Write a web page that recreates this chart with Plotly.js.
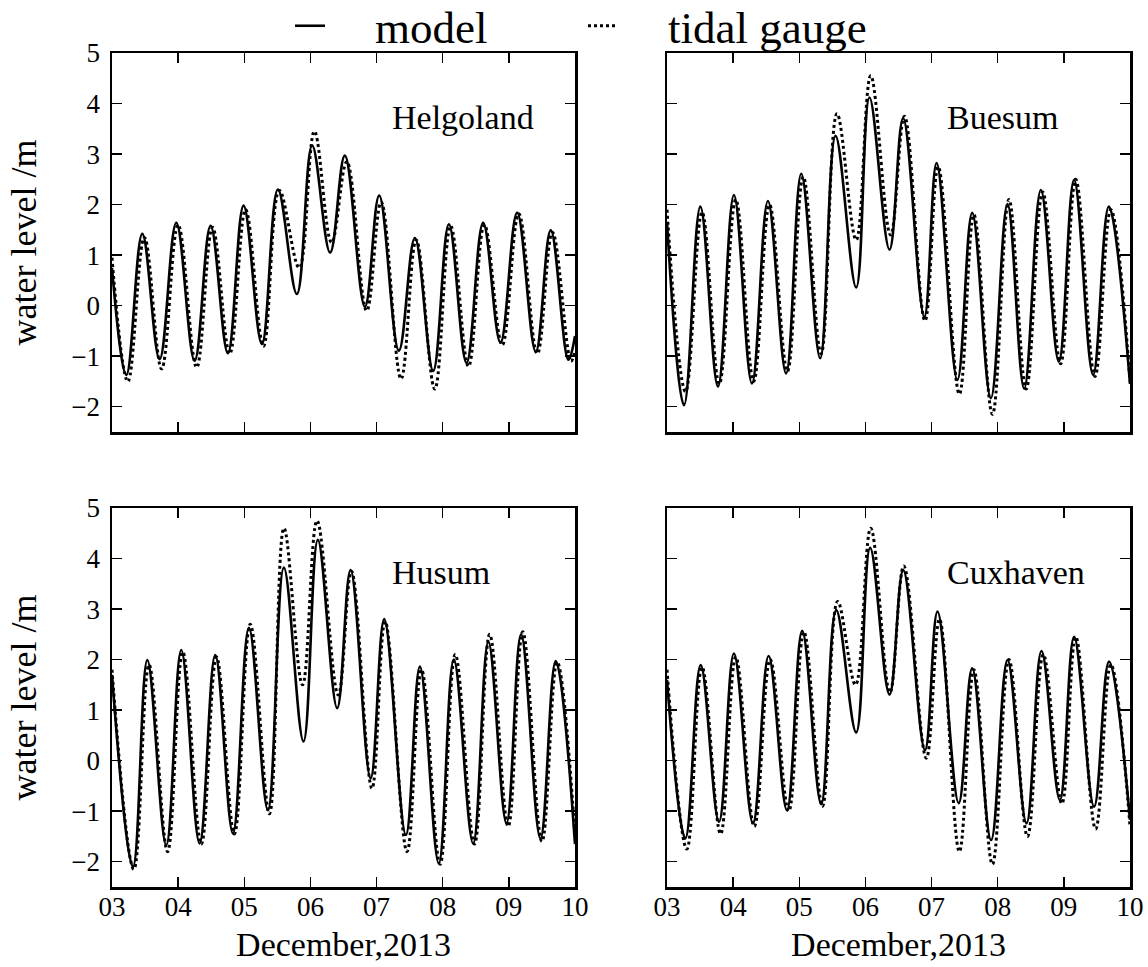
<!DOCTYPE html>
<html>
<head>
<meta charset="utf-8">
<script src="https://cdn.plot.ly/plotly-3.0.1.min.js"></script>
<style>html,body{margin:0;padding:0;background:#fff;}#chart{width:1148px;height:967px;}</style>
</head>
<body>
<div id="chart"></div>
<script>
// Time in December 2013 (day of month, fractional) at each turning point
const helgolandModelT = [3.0, 3.217, 3.458, 3.72, 3.972, 4.249, 4.49, 4.752, 4.989, 5.266, 5.508, 5.795, 6.026, 6.298, 6.52, 6.824, 7.04, 7.337, 7.579, 7.856, 8.093, 8.36, 8.611, 8.873, 9.125, 9.407, 9.633, 9.9, 10.0];
const helgolandModelV = [0.75, -1.37, 1.42, -1.06, 1.64, -1.09, 1.58, -0.94, 1.98, -0.76, 2.3, 0.23, 3.17, 1.05, 2.97, -0.02, 2.18, -0.89, 1.34, -1.29, 1.61, -1.13, 1.64, -0.73, 1.84, -0.91, 1.49, -1.07, -0.6];
const helgolandGaugeT = [3.0, 3.24, 3.49, 3.75, 4.0, 4.28, 4.52, 4.78, 5.02, 5.29, 5.53, 5.83, 6.06, 6.32, 6.55, 6.85, 7.07, 7.37, 7.6, 7.88, 8.12, 8.39, 8.63, 8.9, 9.15, 9.43, 9.66, 9.94, 10.0];
const helgolandGaugeV = [0.95, -1.5, 1.35, -1.25, 1.6, -1.22, 1.55, -0.95, 1.9, -0.8, 2.28, 0.75, 3.45, 1.25, 2.85, -0.1, 2.05, -1.45, 1.3, -1.65, 1.58, -1.2, 1.6, -0.78, 1.82, -0.95, 1.45, -1.1, -0.9];

const buesumModelT = [3.0, 3.257, 3.504, 3.77, 4.012, 4.284, 4.526, 4.8, 5.03, 5.316, 5.548, 5.86, 6.061, 6.364, 6.57, 6.89, 7.076, 7.39, 7.614, 7.896, 8.148, 8.4, 8.652, 8.924, 9.155, 9.442, 9.68, 10.0];
const buesumModelV = [1.65, -1.97, 1.96, -1.6, 2.19, -1.54, 2.07, -1.34, 2.61, -1.04, 3.36, 0.36, 4.12, 1.11, 3.71, -0.22, 2.82, -1.47, 1.84, -1.83, 2.01, -1.64, 2.29, -1.11, 2.49, -1.37, 1.96, -1.55];
const buesumGaugeT = [3.0, 3.28, 3.53, 3.79, 4.04, 4.31, 4.55, 4.82, 5.06, 5.33, 5.57, 5.86, 6.08, 6.38, 6.59, 6.9, 7.1, 7.42, 7.64, 7.92, 8.17, 8.43, 8.68, 8.95, 9.18, 9.47, 9.71, 10.0];
const buesumGaugeV = [1.9, -1.7, 1.85, -1.55, 2.1, -1.5, 2.0, -1.3, 2.55, -0.95, 3.8, 1.3, 4.55, 1.4, 3.75, -0.3, 2.75, -1.75, 1.8, -2.15, 2.1, -1.65, 2.25, -1.15, 2.5, -1.4, 1.9, -1.5];

const husumModelT = [3.0, 3.317, 3.534, 3.82, 4.047, 4.324, 4.561, 4.828, 5.07, 5.357, 5.598, 5.895, 6.112, 6.404, 6.607, 6.91, 7.116, 7.443, 7.655, 7.94, 8.168, 8.46, 8.69, 8.964, 9.185, 9.477, 9.709, 10.0];
const husumModelV = [1.7, -2.1, 1.99, -1.67, 2.19, -1.64, 2.09, -1.44, 2.63, -0.98, 3.82, 0.38, 4.37, 1.04, 3.77, -0.35, 2.8, -1.47, 1.86, -2.03, 2.0, -1.64, 2.35, -1.24, 2.5, -1.54, 1.97, -1.65];
const husumGaugeT = [3.0, 3.33, 3.56, 3.84, 4.07, 4.35, 4.58, 4.85, 5.09, 5.38, 5.6, 5.88, 6.1, 6.42, 6.62, 6.93, 7.13, 7.46, 7.68, 7.96, 8.19, 8.48, 8.71, 8.99, 9.21, 9.5, 9.73, 10.0];
const husumGaugeV = [1.8, -2.15, 1.9, -1.8, 2.15, -1.65, 2.05, -1.45, 2.7, -1.05, 4.6, 1.5, 4.75, 1.3, 3.75, -0.55, 2.75, -1.8, 1.8, -2.05, 2.1, -1.65, 2.5, -1.3, 2.55, -1.6, 1.95, -1.5];

const cuxhavenModelT = [3.0, 3.277, 3.509, 3.786, 4.012, 4.3, 4.536, 4.813, 5.044, 5.331, 5.558, 5.86, 6.071, 6.364, 6.572, 6.9, 7.09, 7.41, 7.614, 7.9, 8.148, 8.435, 8.662, 8.94, 9.155, 9.457, 9.683, 10.0];
const cuxhavenModelV = [1.6, -1.54, 1.89, -1.21, 2.12, -1.24, 2.07, -0.98, 2.57, -0.86, 2.98, 0.56, 4.21, 1.31, 3.77, 0.21, 2.95, -0.84, 1.83, -1.57, 1.99, -1.24, 2.17, -0.78, 2.45, -0.91, 1.96, -1.17];
const cuxhavenGaugeT = [3.0, 3.3, 3.53, 3.81, 4.04, 4.32, 4.56, 4.84, 5.07, 5.35, 5.58, 5.85, 6.08, 6.37, 6.58, 6.92, 7.12, 7.42, 7.64, 7.92, 8.17, 8.45, 8.69, 8.97, 9.18, 9.48, 9.71, 10.0];
const cuxhavenGaugeV = [1.8, -1.75, 1.85, -1.45, 2.05, -1.3, 2.0, -1.0, 2.55, -0.9, 3.15, 1.5, 4.6, 1.35, 3.85, 0.05, 2.8, -1.8, 1.8, -2.05, 2.0, -1.5, 2.1, -0.85, 2.45, -1.35, 1.9, -1.3];

const stations = ['Helgoland', 'Buesum', 'Husum', 'Cuxhaven'];
const seriesNames = ['model', 'tidal gauge'];
const xTickVals = [3, 4, 5, 6, 7, 8, 9, 10];
const xTickText = ['03', '04', '05', '06', '07', '08', '09', '10'];
const yTickVals = [-2, -1, 0, 1, 2, 3, 4, 5];
const xTitle = 'December,2013';
const yTitle = 'water level /m';

const FONT = 'Liberation Serif, Times New Roman, serif';
const panels = [
  {mt: helgolandModelT, mv: helgolandModelV, gt: helgolandGaugeT, gv: helgolandGaugeV},
  {mt: buesumModelT, mv: buesumModelV, gt: buesumGaugeT, gv: buesumGaugeV},
  {mt: husumModelT, mv: husumModelV, gt: husumGaugeT, gv: husumGaugeV},
  {mt: cuxhavenModelT, mv: cuxhavenModelV, gt: cuxhavenGaugeT, gv: cuxhavenGaugeV}
];

const PAD = '\u00a0\u00a0\u00a0\u00a0';
const traces = [];
panels.forEach((p, i) => {
  const xa = i === 0 ? 'x' : 'x' + (i + 1);
  const ya = i === 0 ? 'y' : 'y' + (i + 1);
  traces.push({x: p.mt, y: p.mv, xaxis: xa, yaxis: ya, type: 'scatter', mode: 'lines',
    name: PAD + seriesNames[0], legendgroup: 'm', showlegend: i === 0,
    line: {color: 'black', width: 2.6, shape: 'spline', smoothing: 1.1}});
  traces.push({x: p.gt, y: p.gv, xaxis: xa, yaxis: ya, type: 'scatter', mode: 'lines',
    name: PAD + seriesNames[1], legendgroup: 'g', showlegend: i === 0,
    line: {color: 'black', width: 3, dash: 'dot', shape: 'spline', smoothing: 1.1}});
});

const W = 1148, H = 967;
const M = {l: 112, r: 18, t: 53, b: 80, autoexpand: false};
const PW = W - M.l - M.r, PH = H - M.t - M.b;
const xDomL = [0, (575 - M.l) / PW], xDomR = [(667 - M.l) / PW, 1];
const yDomT = [1 - (432 - M.t) / PH, 1], yDomB = [0, (887 - 508) / PH];

function xAxis(domain, anchor, labels) {
  return {domain, anchor, range: [3, 10], tickvals: xTickVals, ticktext: xTickText,
    showticklabels: labels, showline: true, linewidth: 2.5, linecolor: 'black', mirror: 'allticks',
    ticks: 'inside', ticklen: 10, tickwidth: 1.5, tickcolor: 'black', showgrid: false, zeroline: false,
    tickfont: {family: FONT, size: 27, color: 'black'}, ticklabelstandoff: -6,
    title: labels ? {text: xTitle, font: {family: FONT, size: 34, color: 'black'}, standoff: 12} : {text: ''}};
}
function yAxis(domain, anchor, labels) {
  return {domain, anchor, range: [-2.5, 5], tickvals: yTickVals,
    showticklabels: labels, showline: true, linewidth: 2.5, linecolor: 'black', mirror: 'allticks',
    ticks: 'inside', ticklen: 10, tickwidth: 1.5, tickcolor: 'black', showgrid: false, zeroline: false,
    tickfont: {family: FONT, size: 27, color: 'black'}, ticklabelstandoff: 4,
    title: labels ? {text: yTitle, font: {family: FONT, size: 36, color: 'black'}, standoff: 24} : {text: ''}};
}

const annotations = stations.map((s, i) => ({
  text: s, xref: (i === 0 ? 'x' : 'x' + (i + 1)) + ' domain', yref: (i === 0 ? 'y' : 'y' + (i + 1)) + ' domain',
  x: 0.6, y: 0.83, xanchor: 'left', yanchor: 'middle', showarrow: false,
  font: {family: FONT, size: 34, color: 'black'}
}));

const layout = {
  width: W, height: H,
  margin: M,
  paper_bgcolor: 'white', plot_bgcolor: 'white',
  font: {family: FONT, color: 'black'},
  showlegend: true,
  legend: {orientation: 'h', x: (290 - M.l) / PW, xanchor: 'left', y: 1 + (M.t - 26) / PH, yanchor: 'middle',
    font: {family: FONT, size: 45, color: 'black'}, bgcolor: 'rgba(0,0,0,0)',
    entrywidth: 248, entrywidthmode: 'pixels'},
  xaxis: xAxis(xDomL, 'y', false),
  yaxis: yAxis(yDomT, 'x', true),
  xaxis2: xAxis(xDomR, 'y2', false),
  yaxis2: yAxis(yDomT, 'x2', false),
  xaxis3: xAxis(xDomL, 'y3', true),
  yaxis3: yAxis(yDomB, 'x3', true),
  xaxis4: xAxis(xDomR, 'y4', true),
  yaxis4: yAxis(yDomB, 'x4', false),
  annotations
};

Plotly.newPlot('chart', traces, layout, {staticPlot: true, displayModeBar: false});
</script>
</body>
</html>
